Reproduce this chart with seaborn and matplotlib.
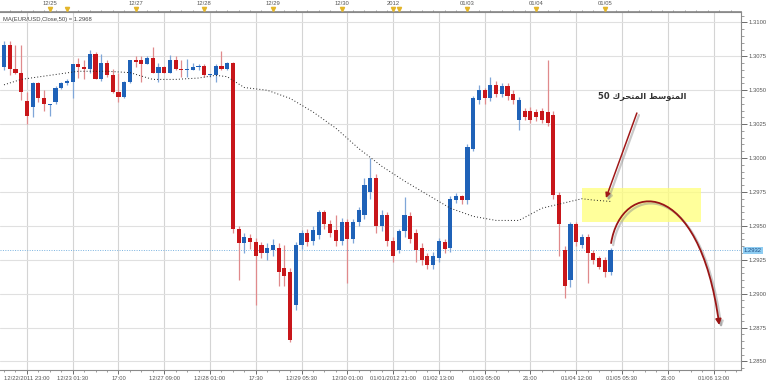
import numpy as np
import pandas as pd
import seaborn as sns
import matplotlib.pyplot as plt
import matplotlib.transforms as mtransforms
import matplotlib.patheffects as pe
from matplotlib.path import Path
from matplotlib.patches import FancyArrowPatch, Rectangle

# EUR/USD candles
opens = [1.3067, 1.3083, 1.3066, 1.3063, 1.3042, 1.3038, 1.3055, 1.3044, 1.3039, 1.3041,
         1.3052, 1.3055, 1.3056, 1.3069, 1.3067, 1.3066, 1.3077, 1.3058, 1.3070, 1.3061,
         1.3049, 1.3045, 1.3056, 1.3072, 1.3072, 1.3069, 1.3074, 1.3063, 1.3067, 1.3063,
         1.3072, 1.3066, 1.3065, 1.3065, 1.3067, 1.3068, 1.3061, 1.3061, 1.3068, 1.3066,
         1.3070, 1.2948, 1.2937, 1.2941, 1.2938, 1.2936, 1.2930, 1.2932, 1.2934, 1.2919,
         1.2916, 1.2892, 1.2936, 1.2945, 1.2939, 1.2943, 1.2960, 1.2951, 1.2947, 1.2939,
         1.2953, 1.2940, 1.2953, 1.2958, 1.2975, 1.2985, 1.2950, 1.2958, 1.2939, 1.2932,
         1.2946, 1.2957, 1.2945, 1.2934, 1.2928, 1.2921, 1.2926, 1.2938, 1.2934, 1.2969,
         1.2972, 1.2969, 1.3007, 1.3043, 1.3050, 1.3044, 1.3054, 1.3047, 1.3053, 1.3047,
         1.3028, 1.3035, 1.3035, 1.3034, 1.3035, 1.3034, 1.3032, 1.2973, 1.2932, 1.2910,
         1.2951, 1.2936, 1.2942, 1.2930, 1.2926, 1.2925, 1.2916]
highs = [1.3086, 1.3086, 1.3083, 1.3083, 1.3049, 1.3056, 1.3056, 1.3050, 1.3040, 1.3053,
         1.3056, 1.3058, 1.3069, 1.3074, 1.3072, 1.3080, 1.3078, 1.3077, 1.3072, 1.3066,
         1.3063, 1.3057, 1.3072, 1.3075, 1.3075, 1.3075, 1.3082, 1.3070, 1.3068, 1.3076,
         1.3075, 1.3072, 1.3073, 1.3070, 1.3069, 1.3069, 1.3062, 1.3069, 1.3079, 1.3071,
         1.3071, 1.2950, 1.2945, 1.2944, 1.2941, 1.2938, 1.2937, 1.2940, 1.2937, 1.2936,
         1.2919, 1.2938, 1.2947, 1.2948, 1.2950, 1.2962, 1.2962, 1.2954, 1.2958, 1.2956,
         1.2955, 1.2955, 1.2964, 1.2985, 1.3000, 1.2988, 1.2962, 1.2960, 1.2942, 1.2948,
         1.2971, 1.2960, 1.2948, 1.2937, 1.2930, 1.2931, 1.2941, 1.2940, 1.2972, 1.2974,
         1.2973, 1.3010, 1.3046, 1.3054, 1.3052, 1.3060, 1.3057, 1.3055, 1.3055, 1.3050,
         1.3045, 1.3037, 1.3038, 1.3036, 1.3037, 1.3072, 1.3035, 1.2975, 1.2935, 1.2953,
         1.2953, 1.2944, 1.2944, 1.2932, 1.2928, 1.2927, 1.2934]
lows = [1.3065, 1.3061, 1.3062, 1.3043, 1.3025, 1.3030, 1.3041, 1.3035, 1.3031, 1.3040,
        1.3051, 1.3054, 1.3044, 1.3059, 1.3058, 1.3063, 1.3058, 1.3057, 1.3060, 1.3048,
        1.3041, 1.3044, 1.3055, 1.3067, 1.3056, 1.3069, 1.3063, 1.3056, 1.3063, 1.3063,
        1.3065, 1.3060, 1.3060, 1.3065, 1.3065, 1.3060, 1.3060, 1.3056, 1.3065, 1.3065,
        1.2945, 1.2910, 1.2930, 1.2933, 1.2892, 1.2926, 1.2925, 1.2928, 1.2906, 1.2906,
        1.2864, 1.2888, 1.2933, 1.2935, 1.2936, 1.2940, 1.2948, 1.2942, 1.2935, 1.2936,
        1.2908, 1.2937, 1.2950, 1.2955, 1.2970, 1.2945, 1.2946, 1.2935, 1.2923, 1.2930,
        1.2942, 1.2937, 1.2923, 1.2921, 1.2918, 1.2918, 1.2923, 1.2930, 1.2931, 1.2967,
        1.2966, 1.2966, 1.3005, 1.3040, 1.3040, 1.3042, 1.3045, 1.3045, 1.3043, 1.3040,
        1.3021, 1.3028, 1.3026, 1.3027, 1.3026, 1.3024, 1.2970, 1.2928, 1.2897, 1.2905,
        1.2935, 1.2934, 1.2908, 1.2922, 1.2918, 1.2912, 1.2914]
closes = [1.3083, 1.3066, 1.3063, 1.3049, 1.3031, 1.3055, 1.3044, 1.3040, 1.3040, 1.3052,
          1.3055, 1.3057, 1.3069, 1.3067, 1.3066, 1.3077, 1.3058, 1.3070, 1.3061, 1.3049,
          1.3045, 1.3056, 1.3072, 1.3071, 1.3069, 1.3074, 1.3063, 1.3067, 1.3063, 1.3072,
          1.3066, 1.3065, 1.3066, 1.3067, 1.3068, 1.3061, 1.3062, 1.3068, 1.3066, 1.3070,
          1.2948, 1.2937, 1.2942, 1.2938, 1.2928, 1.2930, 1.2934, 1.2936, 1.2916, 1.2913,
          1.2866, 1.2936, 1.2945, 1.2938, 1.2947, 1.2960, 1.2951, 1.2945, 1.2939, 1.2953,
          1.2940, 1.2953, 1.2962, 1.2980, 1.2985, 1.2950, 1.2958, 1.2939, 1.2928, 1.2946,
          1.2958, 1.2940, 1.2932, 1.2925, 1.2921, 1.2928, 1.2939, 1.2933, 1.2970, 1.2972,
          1.2969, 1.3008, 1.3044, 1.3050, 1.3044, 1.3054, 1.3047, 1.3053, 1.3046, 1.3043,
          1.3043, 1.3030, 1.3028, 1.3030, 1.3028, 1.3026, 1.2973, 1.2951, 1.2906, 1.2951,
          1.2938, 1.2942, 1.2930, 1.2925, 1.2920, 1.2916, 1.2932]

# 50 period moving average (sampled along the dotted line)
ma_idx = [0, 3, 8, 13, 18, 22, 26, 30, 34, 37, 39, 42, 46, 50, 54, 58, 62, 66,
          70, 74, 78, 82, 86, 90, 94, 98, 101, 103, 106]
ma_val = [1.3054, 1.3058, 1.3061, 1.3064, 1.3064, 1.3063, 1.3058, 1.3058, 1.3059,
          1.3061, 1.3060, 1.3052, 1.3050, 1.3044, 1.3034, 1.3022, 1.3007, 1.2994,
          1.2983, 1.2973, 1.2963, 1.2957, 1.2954, 1.2954, 1.2963, 1.2967, 1.2970,
          1.2969, 1.2968]

bottom_labels = ['12/22/2011 23:00', '12/23 01:30', '17:00', '12/27 09:00', '12/28 01:00',
                 '17:30', '12/29 05:30', '12/30 01:00', '01/01/2012 21:00', '01/02 13:00',
                 '01/03 05:00', '21:00', '01/04 12:00', '01/05 05:30', '21:00', '01/06 13:00']
bottom_idx = [4, 12, 20, 28, 36, 44, 52, 60, 68, 76, 84, 92, 100, 108, 116, 124]
top_labels = ['12/25', '', '12/27', '12/28', '12/29', '12/30', '2012', '', '01/03', '01/04', '01/05']
top_idx = [8, 11, 23, 35, 47, 59, 68, 69, 81, 93, 105]
price_ticks = [1.2850, 1.2875, 1.2900, 1.2925, 1.2950, 1.2975, 1.3000, 1.3025, 1.3050, 1.3075, 1.3100]

BLUE = '#1f62b8'
RED = '#c8161a'

sns.set_theme(style='white')
plt.rcParams['font.family'] = ['Liberation Sans', 'DejaVu Sans']

df = pd.DataFrame({'open': opens, 'high': highs, 'low': lows, 'close': closes})
df['bar'] = np.arange(len(df))
df['up'] = df['close'] >= df['open']
df['color'] = np.where(df['up'], BLUE, RED)
df['wick'] = np.where(df['up'], '#7fa6d8', '#e08a8c')
df['bottom'] = df[['open', 'close']].min(axis=1)
df['height'] = (df['close'] - df['open']).abs().clip(lower=0.00007)

fig = plt.figure(figsize=(7.68, 3.84), dpi=100)
ax = fig.add_axes([0.0, 1 - 370 / 384, 741 / 768, 358 / 384])

for g in bottom_idx:
    ax.axvline(g, color='#d4d4d4', lw=0.8, zorder=0)
for p in price_ticks:
    ax.axhline(p, color='#e0e0e0', lw=0.8, zorder=0)

# highlighted zone
ax.add_patch(Rectangle((101, 1.2953), 20.8, 0.0025, facecolor='#ffff7a', alpha=0.75,
                       edgecolor='none', zorder=1))

ax.vlines(df['bar'], df['low'], df['high'], colors=df['wick'], lw=0.9, zorder=2)
ax.bar(df['bar'], df['height'], bottom=df['bottom'], width=0.72, color=df['color'],
       linewidth=0, zorder=3)

sns.lineplot(x=ma_idx, y=ma_val, ax=ax, color='#222222', lw=0.7,
             linestyle=(0, (1, 2.2)), zorder=4)

last = closes[-1]
ax.axhline(last, color='#7ab3e0', lw=0.7, linestyle=(0, (1, 1.5)), zorder=1)

ax.set_xlim(-0.7, 128.8)
ax.set_ylim(1.28437, 1.31077)

# axes styling
ax.spines['left'].set_visible(False)
for side in ['top', 'right', 'bottom']:
    ax.spines[side].set_color('#8a8a8a')
    ax.spines[side].set_linewidth(0.8)

ax.yaxis.tick_right()
ax.set_yticks(price_ticks, labels=[f'{p:.4f}' for p in price_ticks])
ax.set_yticks(np.arange(1.2845, 1.3106, 0.0005), minor=True)
ax.tick_params(axis='y', which='major', length=4, width=0.6, color='#555555',
               labelsize=4.2, labelcolor='#555555', pad=1.5, right=True, left=False)
ax.tick_params(axis='y', which='minor', length=2, width=0.5, color='#777777',
               right=True, left=False)

ax.set_xticks(bottom_idx, labels=bottom_labels)
ax.set_xticks(np.arange(0, 129, 2), minor=True)
ax.tick_params(axis='x', which='major', length=3, width=0.6, color='#555555',
               labelsize=4.2, labelcolor='#555555', pad=1.5, bottom=True)
ax.tick_params(axis='x', which='minor', length=1.5, width=0.5, color='#777777', bottom=True)
ax.set_xlabel('')
ax.set_ylabel('')

top = ax.secondary_xaxis('top')
top.set_xticks(top_idx, labels=top_labels)
top.set_xticks(np.arange(1, 129, 2), minor=True)
top.tick_params(axis='x', which='major', length=3, width=0.6, color='#555555',
                labelsize=4.2, labelcolor='#555555', pad=1.5)
top.tick_params(axis='x', which='minor', length=1.5, width=0.5, color='#777777')
top.spines['top'].set_color('#8a8a8a')

tr = mtransforms.blended_transform_factory(ax.transData, ax.transAxes)
ax.plot(top_idx, [1.009] * len(top_idx), transform=tr, linestyle='none', marker='v',
        markersize=3, color='#e3b52a', clip_on=False, zorder=6)

ax.text(0.004, 0.985, f'MA(EUR/USD,Close,50) = {ma_val[-1]:.4f}', transform=ax.transAxes,
        ha='left', va='top', fontsize=4.2, color='#444444')

ptr = mtransforms.blended_transform_factory(ax.transAxes, ax.transData)
ax.text(1.004, last, f'{last:.4f}', transform=ptr, ha='left', va='center', fontsize=4.2,
        color='#1d4f86', bbox=dict(boxstyle='square,pad=0.2', facecolor='#8fcdf2',
                                   edgecolor='none'), clip_on=False, zorder=7)

# "المتوسط المتحرك 50" written in shaped presentation forms, visual order
label_ar = ('50 ' + '\ufed9\ufeae\ufea4\ufe98\ufee4\ufedf\ufe8d' + ' ' +
            '\ufec2\ufeb3\ufeee\ufe98\ufee4\ufedf\ufe8d')
ax.text(111.5, 1.30455, label_ar, ha='center', va='center', fontsize=6, weight='bold',
        family=['DejaVu Sans'], color='#333333', zorder=8)

shadow = [pe.SimpleLineShadow(offset=(1.5, -1.5), shadow_color='#888888', alpha=0.45,
                              linewidth=1.6),
          pe.Normal()]
ax.annotate('', xy=(105.2, 1.29705), xytext=(110.6, 1.30332),
            arrowprops=dict(arrowstyle='-|>', color='#a01818', lw=1.1, mutation_scale=7,
                            shrinkA=0, shrinkB=0, path_effects=shadow), zorder=8)

curve = Path([(106.1, 1.29373), (107.9, 1.29838), (121.5, 1.29875), (125.0, 1.28768)],
             [Path.MOVETO, Path.CURVE4, Path.CURVE4, Path.CURVE4])
arc = FancyArrowPatch(path=curve, arrowstyle='-|>', mutation_scale=8, color='#9a1616',
                      lw=1.3, zorder=8)
arc.set_path_effects(shadow)
ax.add_patch(arc)

fig.savefig('out.png', dpi=100)
